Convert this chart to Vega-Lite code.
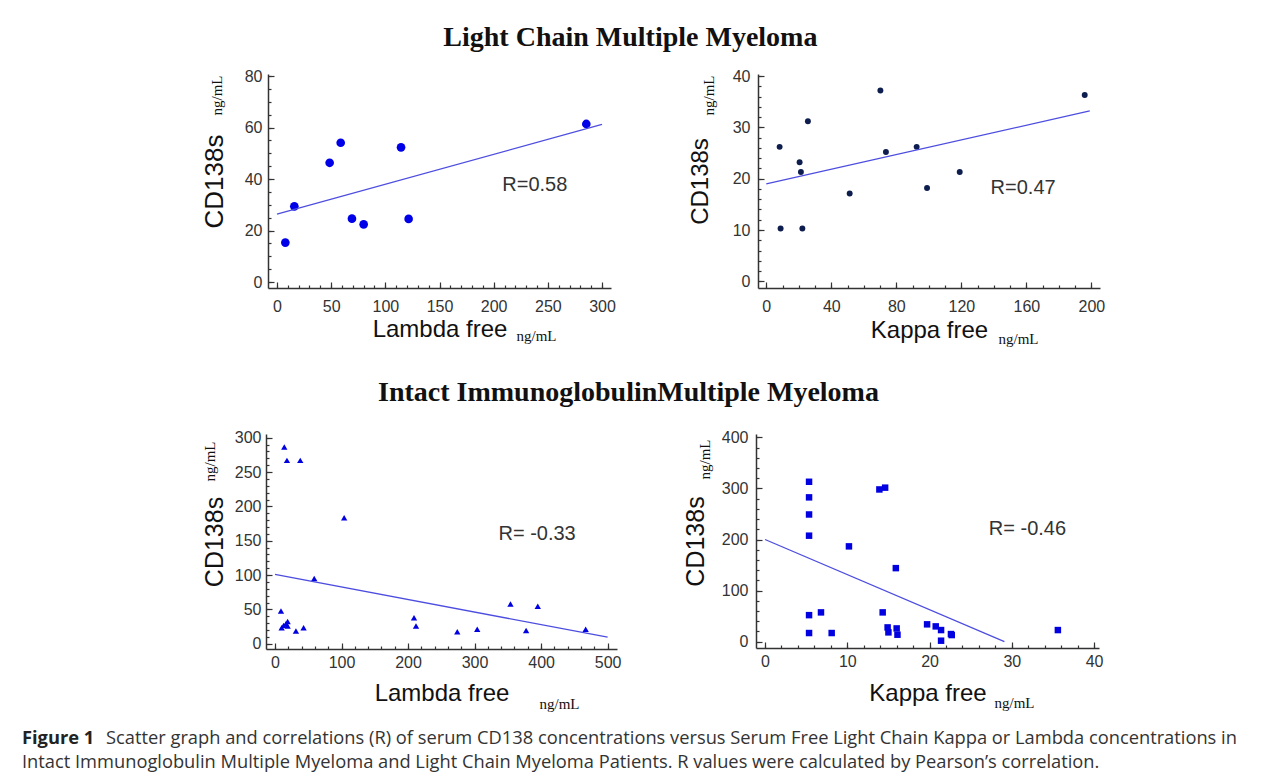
{
  "$schema": "https://vega.github.io/schema/vega-lite/v6.json",
  "background": "white",
  "padding": {"left": 22, "top": 24, "right": 0, "bottom": 0},
  "config": {
    "view": {"stroke": null},
    "axis": {"domainColor": "#333", "domainWidth": 1.5, "tickColor": "#333", "tickWidth": 1.2, "labelFont": "Liberation Sans", "labelFontSize": 16, "labelColor": "#333", "titleFont": "Liberation Sans", "titleFontSize": 24, "titleFontWeight": "normal", "titleColor": "#111", "grid": false}
  },
  "spacing": 18,
  "vconcat": [
    {
      "spacing": 33,
      "vconcat": [
        {
          "title": {"text": "Light Chain Multiple Myeloma", "font": "Liberation Serif", "fontSize": 28, "fontWeight": "bold", "color": "#111", "anchor": "middle", "dx": 67, "offset": 16},
          "spacing": 72,
          "hconcat": [
            {"width": 107, "height": 10, "data": {"values": []}, "mark": "point"},
            {
              "width": 343, "height": 214,
              "layer": [
                {
                  "data": {"values": [{"x": 7.7, "y": 15.3}, {"x": 16, "y": 29.4}, {"x": 48.6, "y": 46.3}, {"x": 58.8, "y": 54.1}, {"x": 69.2, "y": 24.6}, {"x": 80, "y": 22.4}, {"x": 114.5, "y": 52.3}, {"x": 121.5, "y": 24.5}, {"x": 285.5, "y": 61.4}]},
                  "mark": {"type": "point", "shape": "circle", "filled": true, "size": 75, "color": "#0000e8", "opacity": 1},
                  "encoding": {
                    "x": {"field": "x", "type": "quantitative", "scale": {"domain": [-8.3, 308.3], "nice": false, "zero": false}, "axis": {"orient": "bottom", "values": [0, 50, 100, 150, 200, 250, 300], "tickSize": -6, "labelPadding": 16, "title": "Lambda free", "titlePadding": 3}},
                    "y": {"field": "y", "type": "quantitative", "scale": {"domain": [-2.33, 80.8], "nice": false, "zero": false}, "axis": {"orient": "left", "values": [0, 20, 40, 60, 80], "tickSize": -6, "labelPadding": 12, "title": "CD138s", "titleFontSize": 26, "titlePadding": 17}}
                  }
                },
                {
                  "data": {"values": [{"x": 0, "y": 26.4}, {"x": 300, "y": 61.2}]},
                  "mark": {"type": "line", "color": "#4d4de0", "strokeWidth": 1.3},
                  "encoding": {
                    "x": {"field": "x", "type": "quantitative", "axis": {"orient": "bottom", "values": [0,10,20,30,40,50,60,70,80,90,100,110,120,130,140,150,160,170,180,190,200,210,220,230,240,250,260,270,280,290,300], "tickSize": -3, "labels": false, "domain": false, "title": "ng/mL", "titleFont": "Liberation Serif", "titleFontSize": 15, "titleX": 268, "titleY": 52, "titleAlign": "center", "titleBaseline": "alphabetic", "titleAngle": 0}},
                    "y": {"field": "y", "type": "quantitative", "axis": {"orient": "left", "values": [0,5,10,15,20,25,30,35,40,45,50,55,60,65,70,75,80], "tickSize": -3, "labels": false, "domain": false, "title": "ng/mL", "titleFont": "Liberation Serif", "titleFontSize": 15, "titleX": -52, "titleY": 21, "titleAngle": -90, "titleAlign": "center", "titleBaseline": "middle"}}
                  }
                },
                {
                  "data": {"values": [{"label": "R=0.58"}]},
                  "mark": {"type": "text", "font": "Liberation Sans", "fontSize": 20, "color": "#333"},
                  "encoding": {"x": {"datum": 238, "type": "quantitative", "axis": null}, "y": {"datum": 37.5, "type": "quantitative", "axis": null}, "text": {"field": "label"}}
                }
              ],
              "resolve": {"axis": {"x": "independent", "y": "independent"}}
            },
            {
              "width": 342, "height": 214,
              "layer": [
                {
                  "data": {"values": [{"x": 8.2, "y": 26.2}, {"x": 8.8, "y": 10.3}, {"x": 20.5, "y": 23.2}, {"x": 21.3, "y": 21.3}, {"x": 22.2, "y": 10.3}, {"x": 25.6, "y": 31.2}, {"x": 51.3, "y": 17.1}, {"x": 70.2, "y": 37.2}, {"x": 73.6, "y": 25.2}, {"x": 92.5, "y": 26.2}, {"x": 98.9, "y": 18.2}, {"x": 119, "y": 21.3}, {"x": 195.9, "y": 36.3}]},
                  "mark": {"type": "point", "shape": "circle", "filled": true, "size": 35, "color": "#0d1d4d", "opacity": 1},
                  "encoding": {
                    "x": {"field": "x", "type": "quantitative", "scale": {"domain": [-5.1, 205.3], "nice": false, "zero": false}, "axis": {"orient": "bottom", "values": [0, 40, 80, 120, 160, 200], "tickSize": -6, "labelPadding": 16, "title": "Kappa free", "titlePadding": 4}},
                    "y": {"field": "y", "type": "quantitative", "scale": {"domain": [-1.3, 40.4], "nice": false, "zero": false}, "axis": {"orient": "left", "values": [0, 10, 20, 30, 40], "tickSize": -6, "labelPadding": 14, "title": "CD138s", "titlePadding": 20}}
                  }
                },
                {
                  "data": {"values": [{"x": 0, "y": 19.0}, {"x": 199, "y": 33.2}]},
                  "mark": {"type": "line", "color": "#4d4de0", "strokeWidth": 1.3},
                  "encoding": {
                    "x": {"field": "x", "type": "quantitative", "axis": {"orient": "bottom", "values": [0,10,20,30,40,50,60,70,80,90,100,110,120,130,140,150,160,170,180,190,200], "tickSize": -3, "labels": false, "domain": false, "title": "ng/mL", "titleFont": "Liberation Serif", "titleFontSize": 15, "titleX": 260, "titleY": 55, "titleAlign": "center", "titleBaseline": "alphabetic", "titleAngle": 0}},
                    "y": {"field": "y", "type": "quantitative", "axis": {"orient": "left", "values": [0,2,4,6,8,10,12,14,16,18,20,22,24,26,28,30,32,34,36,38,40], "tickSize": -3, "labels": false, "domain": false, "title": "ng/mL", "titleFont": "Liberation Serif", "titleFontSize": 15, "titleX": -50, "titleY": 21, "titleAngle": -90, "titleAlign": "center", "titleBaseline": "middle"}}
                  }
                },
                {
                  "data": {"values": [{"label": "R=0.47"}]},
                  "mark": {"type": "text", "font": "Liberation Sans", "fontSize": 20, "color": "#333"},
                  "encoding": {"x": {"datum": 158, "type": "quantitative", "axis": null}, "y": {"datum": 18.2, "type": "quantitative", "axis": null}, "text": {"field": "label"}}
                }
              ],
              "resolve": {"axis": {"x": "independent", "y": "independent"}}
            }
          ]
        },
        {
          "title": {"text": "Intact ImmunoglobulinMultiple Myeloma", "font": "Liberation Serif", "fontSize": 28, "fontWeight": "bold", "color": "#111", "anchor": "middle", "dx": 66, "offset": 22},
          "spacing": 62,
          "hconcat": [
            {"width": 118, "height": 10, "data": {"values": []}, "mark": "point"},
            {
              "width": 351, "height": 215,
              "layer": [
                {
                  "data": {"values": [{"x": 9, "y": 47.6}, {"x": 10, "y": 23.3}, {"x": 14, "y": 286.4}, {"x": 13, "y": 26.7}, {"x": 16.5, "y": 29}, {"x": 18, "y": 267}, {"x": 19, "y": 32.5}, {"x": 19, "y": 25.7}, {"x": 31.5, "y": 18.4}, {"x": 38, "y": 267}, {"x": 43, "y": 23.3}, {"x": 59, "y": 95.1}, {"x": 104, "y": 183.5}, {"x": 209, "y": 37.9}, {"x": 212, "y": 25.7}, {"x": 274, "y": 17.5}, {"x": 304, "y": 20.9}, {"x": 354, "y": 57.8}, {"x": 377.5, "y": 19.4}, {"x": 395, "y": 54.4}, {"x": 467, "y": 20.9}]},
                  "mark": {"type": "point", "shape": "triangle-up", "filled": true, "size": 40, "color": "#0000e0", "opacity": 1},
                  "encoding": {
                    "x": {"field": "x", "type": "quantitative", "scale": {"domain": [-13.5, 514.1], "nice": false, "zero": false}, "axis": {"orient": "bottom", "values": [0, 100, 200, 300, 400, 500], "tickSize": -6, "labelPadding": 11, "title": "Lambda free", "titlePadding": 11}},
                    "y": {"field": "y", "type": "quantitative", "scale": {"domain": [-7.7, 305.4], "nice": false, "zero": false}, "axis": {"orient": "left", "values": [0, 50, 100, 150, 200, 250, 300], "tickSize": -6, "labelPadding": 11, "title": "CD138s", "titleFontSize": 25, "titlePadding": 7}}
                  }
                },
                {
                  "data": {"values": [{"x": 0, "y": 101}, {"x": 500, "y": 9.5}]},
                  "mark": {"type": "line", "color": "#4d4de0", "strokeWidth": 1.3},
                  "encoding": {
                    "x": {"field": "x", "type": "quantitative", "axis": {"orient": "bottom", "values": [0,20,40,60,80,100,120,140,160,180,200,220,240,260,280,300,320,340,360,380,400,420,440,460,480,500], "tickSize": -3, "labels": false, "domain": false, "title": "ng/mL", "titleFont": "Liberation Serif", "titleFontSize": 15, "titleX": 293, "titleY": 59, "titleAlign": "center", "titleBaseline": "alphabetic", "titleAngle": 0}},
                    "y": {"field": "y", "type": "quantitative", "axis": {"orient": "left", "values": [0,10,20,30,40,50,60,70,80,90,100,110,120,130,140,150,160,170,180,190,200,210,220,230,240,250,260,270,280,290,300], "tickSize": -3, "labels": false, "domain": false, "title": "ng/mL", "titleFont": "Liberation Serif", "titleFontSize": 15, "titleX": -57, "titleY": 27, "titleAngle": -90, "titleAlign": "center", "titleBaseline": "middle"}}
                  }
                },
                {
                  "data": {"values": [{"label": "R= -0.33"}]},
                  "mark": {"type": "text", "font": "Liberation Sans", "fontSize": 20, "color": "#333"},
                  "encoding": {"x": {"datum": 394, "type": "quantitative", "axis": null}, "y": {"datum": 160, "type": "quantitative", "axis": null}, "text": {"field": "label"}}
                }
              ],
              "resolve": {"axis": {"x": "independent", "y": "independent"}}
            },
            {
              "width": 343, "height": 214,
              "layer": [
                {
                  "data": {"values": [{"x": 5.35, "y": 313}, {"x": 5.35, "y": 282.5}, {"x": 5.35, "y": 249}, {"x": 5.35, "y": 207.5}, {"x": 5.35, "y": 52}, {"x": 5.35, "y": 17}, {"x": 6.8, "y": 57.4}, {"x": 8.1, "y": 17}, {"x": 10.2, "y": 186.6}, {"x": 13.9, "y": 298}, {"x": 14.6, "y": 301.5}, {"x": 14.3, "y": 57.4}, {"x": 14.9, "y": 28}, {"x": 15, "y": 18.3}, {"x": 15.9, "y": 144}, {"x": 16, "y": 26}, {"x": 16.1, "y": 13.7}, {"x": 19.7, "y": 34}, {"x": 20.75, "y": 30}, {"x": 21.4, "y": 22.8}, {"x": 21.4, "y": 2}, {"x": 22.6, "y": 15}, {"x": 22.7, "y": 13}, {"x": 35.6, "y": 22.8}]},
                  "mark": {"type": "point", "shape": "square", "filled": true, "size": 42, "color": "#0000e0", "opacity": 1},
                  "encoding": {
                    "x": {"field": "x", "type": "quantitative", "scale": {"domain": [-1.1, 40.6], "nice": false, "zero": false}, "axis": {"orient": "bottom", "values": [0, 10, 20, 30, 40], "tickSize": -6, "labelPadding": 11, "title": "Kappa free", "titlePadding": 12}},
                    "y": {"field": "y", "type": "quantitative", "scale": {"domain": [-12.3, 406.5], "nice": false, "zero": false}, "axis": {"orient": "left", "values": [0, 100, 200, 300, 400], "tickSize": -6, "labelPadding": 14, "title": "CD138s", "titleFontSize": 25, "titlePadding": 13}}
                  }
                },
                {
                  "data": {"values": [{"x": 0, "y": 200}, {"x": 29.1, "y": 0}]},
                  "mark": {"type": "line", "color": "#4d4de0", "strokeWidth": 1.3},
                  "encoding": {
                    "x": {"field": "x", "type": "quantitative", "axis": {"orient": "bottom", "values": [0,2,4,6,8,10,12,14,16,18,20,22,24,26,28,30,32,34,36,38,40], "tickSize": -3, "labels": false, "domain": false, "title": "ng/mL", "titleFont": "Liberation Serif", "titleFontSize": 15, "titleX": 258, "titleY": 59, "titleAlign": "center", "titleBaseline": "alphabetic", "titleAngle": 0}},
                    "y": {"field": "y", "type": "quantitative", "axis": {"orient": "left", "values": [0,20,40,60,80,100,120,140,160,180,200,220,240,260,280,300,320,340,360,380,400], "tickSize": -3, "labels": false, "domain": false, "title": "ng/mL", "titleFont": "Liberation Serif", "titleFontSize": 15, "titleX": -52, "titleY": 25, "titleAngle": -90, "titleAlign": "center", "titleBaseline": "middle"}}
                  }
                },
                {
                  "data": {"values": [{"label": "R= -0.46"}]},
                  "mark": {"type": "text", "font": "Liberation Sans", "fontSize": 20, "color": "#333"},
                  "encoding": {"x": {"datum": 31.9, "type": "quantitative", "axis": null}, "y": {"datum": 220.6, "type": "quantitative", "axis": null}, "text": {"field": "label"}}
                }
              ],
              "resolve": {"axis": {"x": "independent", "y": "independent"}}
            }
          ]
        }
      ]
    },
    {
      "width": 1230, "height": 48,
      "layer": [
        {
          "data": {"values": [{"line": 1, "text": "Figure 1"}]},
          "mark": {"type": "text", "align": "left", "baseline": "alphabetic", "font": "Open Sans", "fontSize": 18.3, "fontWeight": "bold", "color": "#222"},
          "encoding": {"x": {"datum": 0, "type": "quantitative", "scale": {"domain": [0, 1]}, "axis": null}, "y": {"field": "line", "type": "ordinal", "scale": {"domain": [1, 2]}, "axis": null}, "text": {"field": "text"}}
        },
        {
          "data": {"values": [{"line": 1, "text": "Scatter graph and correlations (R) of serum CD138 concentrations versus Serum Free Light Chain Kappa or Lambda concentrations in"}]},
          "mark": {"type": "text", "align": "left", "baseline": "alphabetic", "font": "Open Sans", "fontSize": 18.3, "color": "#333", "dx": 84},
          "encoding": {"x": {"datum": 0, "type": "quantitative", "axis": null}, "y": {"field": "line", "type": "ordinal", "axis": null}, "text": {"field": "text"}}
        },
        {
          "data": {"values": [{"line": 2, "text": "Intact Immunoglobulin Multiple Myeloma and Light Chain Myeloma Patients. R values were calculated by Pearson’s correlation."}]},
          "mark": {"type": "text", "align": "left", "baseline": "alphabetic", "font": "Open Sans", "fontSize": 18.3, "color": "#333"},
          "encoding": {"x": {"datum": 0, "type": "quantitative", "axis": null}, "y": {"field": "line", "type": "ordinal", "axis": null}, "text": {"field": "text"}}
        }
      ]
    }
  ]
}
